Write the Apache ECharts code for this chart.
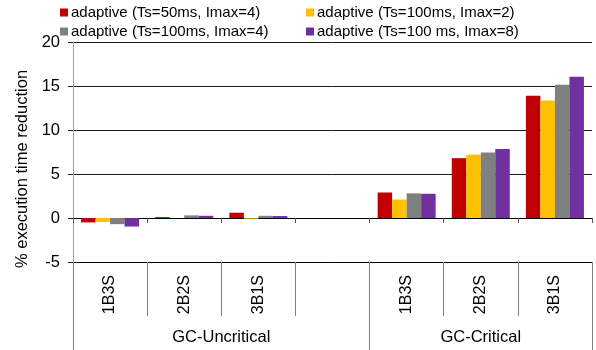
<!DOCTYPE html>
<html><head><meta charset="utf-8">
<script src="https://cdn.jsdelivr.net/npm/echarts@6/dist/echarts.min.js"></script>
<style>html,body{margin:0;padding:0;background:#fff}#c{width:596px;height:350px}</style>
</head><body><div id="c"></div>
<script>
const categories = ['1B3S','2B2S','3B1S','','1B3S','2B2S','3B1S'];
const groups = ['GC-Uncritical','GC-Critical'];
const groupSpans = [4,3];
const seriesNames = ['adaptive (Ts=50ms, Imax=4)','adaptive (Ts=100ms, Imax=2)','adaptive (Ts=100ms, Imax=4)','adaptive (Ts=100 ms, Imax=8)'];
const red    = [-0.5, 0.1, 0.6, null, 2.9, 6.8, 13.9];
const yellow = [-0.45, 0.0, -0.08, null, 2.1, 7.2, 13.35];
const gray   = [-0.7, 0.3, 0.25, null, 2.8, 7.45, 15.15];
const purple = [-0.97, 0.25, 0.22, null, 2.75, 7.85, 16.05];
const yTicks = [-5, 0, 5, 10, 15, 20];
const colors = ['#C00000','#FFC000','#808080','#7030A0'];

const groupBounds = [0];
groupSpans.forEach(s => groupBounds.push(groupBounds[groupBounds.length-1] + s));
const groupCenters = groupSpans.map((s,i) => groupBounds[i] + s/2);

const font = 'Liberation Sans, Arial, sans-serif';
const chart = echarts.init(document.getElementById('c'));
const allData = [red, yellow, gray, purple];
const legendText = {fontSize: 15, color: '#000', fontFamily: font, padding: [0,0,0,-2]};
chart.setOption({
  animation: false,
  textStyle: {fontFamily: font},
  legend: [
    {data: [seriesNames[0], seriesNames[2]], orient: 'vertical', left: 60, top: 5, padding: 0, itemWidth: 8, itemHeight: 8, itemGap: 4,
     icon: 'rect', textStyle: legendText},
    {data: [seriesNames[1], seriesNames[3]], orient: 'vertical', left: 306, top: 5, padding: 0, itemWidth: 8, itemHeight: 8, itemGap: 4,
     icon: 'rect', textStyle: legendText}
  ],
  grid: {left: 73, right: 4, top: 42, bottom: 88, containLabel: false},
  xAxis: [
    {type: 'category', data: categories, position: 'bottom',
     axisLine: {onZero: true, lineStyle: {color: '#000', width: 1}},
     axisTick: {show: true, interval: 0, length: 5, lineStyle: {color: '#555'}},
     axisLabel: {show: false}, splitLine: {show: false}},
    {type: 'category', data: categories, position: 'bottom',
     axisLine: {onZero: false, lineStyle: {color: '#000', width: 1}},
     axisTick: {show: true, interval: 0, length: 54, lineStyle: {color: '#7f7f7f'}},
     axisLabel: {show: true, interval: 0, rotate: 90, fontSize: 16, color: '#000', margin: 13, fontFamily: font},
     splitLine: {show: false}},
    {type: 'value', min: 0, max: categories.length, position: 'bottom',
     axisLine: {show: false, onZero: false},
     axisTick: {show: true, customValues: groupBounds, length: 88, lineStyle: {color: '#7f7f7f'}},
     axisLabel: {show: true, customValues: groupCenters, fontSize: 16.5, color: '#000', margin: 67, fontFamily: font,
       formatter: v => groups[groupCenters.indexOf(v)] || ''},
     splitLine: {show: false}}
  ],
  yAxis: {type: 'value', min: yTicks[0], max: yTicks[yTicks.length-1], interval: 5,
    name: '% execution time reduction', nameLocation: 'middle', nameGap: 41,
    nameTextStyle: {fontSize: 16.5, color: '#000', fontFamily: font, padding: [0, 34, 0, 0]},
    axisLine: {show: true, lineStyle: {color: '#a0a0a0'}},
    axisTick: {show: true, length: 5, lineStyle: {color: '#222'}},
    axisLabel: {fontSize: 16.5, color: '#000', margin: 13, fontFamily: font},
    splitLine: {show: true, lineStyle: {color: '#1a1a1a', width: 1}}
  },
  series: allData.map((d, i) => ({
    name: seriesNames[i], type: 'bar', data: d, xAxisIndex: 0,
    barWidth: 14.5, barGap: '0%',
    itemStyle: {color: colors[i]}
  }))
});
</script></body></html>
